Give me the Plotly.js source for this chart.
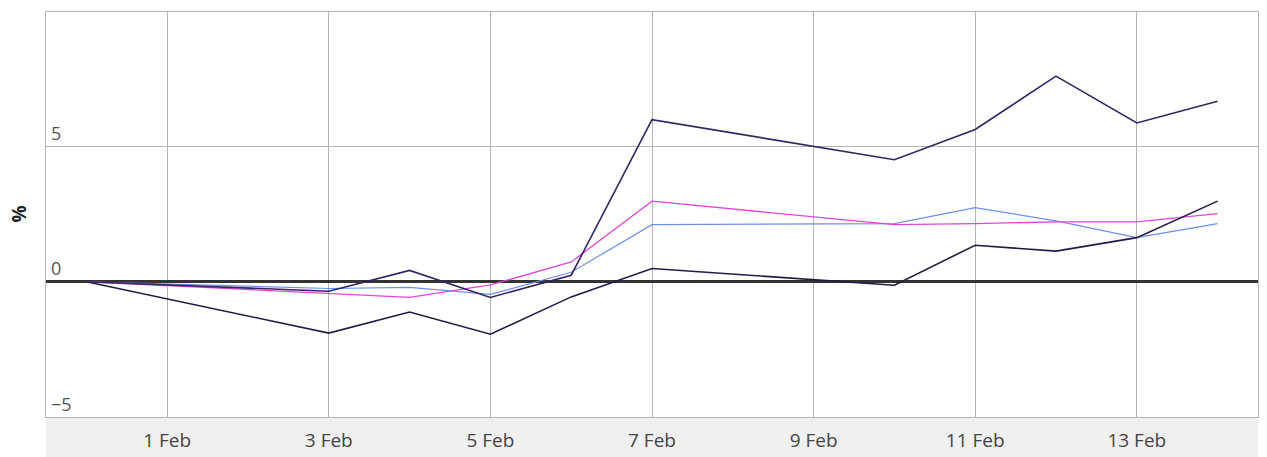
<!DOCTYPE html>
<html>
<head>
<meta charset="utf-8">
<script src="https://cdn.plot.ly/plotly-3.0.1.min.js"></script>
<style>
  html, body { margin: 0; padding: 0; background: #ffffff; }
  #chart { width: 1267px; height: 457px; }
</style>
</head>
<body>
<div id="chart"></div>
<script>
const dates = ['2020-01-31','2020-02-03','2020-02-04','2020-02-05','2020-02-06','2020-02-07',
               '2020-02-10','2020-02-11','2020-02-12','2020-02-13','2020-02-14'];
const seriesA = [0, -0.35, 0.42, -0.58, 0.24, 5.99, 4.51, 5.63, 7.60, 5.87, 6.67];
const seriesB = [0, -1.90, -1.12, -1.94, -0.56, 0.49, -0.13, 1.35, 1.13, 1.63, 2.98];
const seriesC = [0, -0.42, -0.58, -0.12, 0.73, 2.98, 2.11, 2.15, 2.21, 2.21, 2.52];
const seriesD = [0, -0.25, -0.21, -0.47, 0.35, 2.11, 2.15, 2.74, 2.25, 1.63, 2.15];
const yTickVals = [-5, 0, 5];
const yTickText = ['\u22125', '0', '5'];
const yLabel = '%';

const mk = (y, color, w) => ({
  x: dates, y: y, type: 'scatter', mode: 'lines',
  line: { color: color, width: w }, hoverinfo: 'skip', showlegend: false
});

const data = [
  mk(seriesD, '#6f8fe6', 1.2),
  mk(seriesC, '#e046d8', 1.3),
  mk(seriesB, '#1f1d45', 1.6),
  mk(seriesA, '#35245f', 1.6)
];

const layout = {
  width: 1267, height: 457,
  margin: { l: 46, r: 9, t: 12, b: 40 },
  paper_bgcolor: '#ffffff', plot_bgcolor: '#ffffff',
  font: { family: 'Open Sans, Noto Sans, sans-serif', size: 19, color: '#444444' },
  showlegend: false,
  hovermode: false,
  xaxis: {
    type: 'date',
    range: ['2020-01-30 12:00', '2020-02-14 12:00'],
    tick0: '2020-02-01', dtick: 2 * 86400000,
    tickformat: '%-d %b',
    showgrid: true, gridcolor: '#b4b4b4', gridwidth: 1,
    showline: true, linecolor: '#b4b4b4', linewidth: 1, mirror: true,
    ticks: '', zeroline: false,
    ticklabelstandoff: 6,
    tickfont: { size: 19, color: '#444444' }
  },
  yaxis: {
    range: [-5, 9.97],
    tickvals: yTickVals, ticktext: yTickText,
    ticklabelposition: 'inside top',
    ticklabelstandoff: 5,
    showgrid: true, gridcolor: '#b4b4b4', gridwidth: 1,
    showline: true, linecolor: '#b4b4b4', linewidth: 1, mirror: true,
    ticks: '',
    zeroline: true, zerolinecolor: '#333333', zerolinewidth: 3,
    tickfont: { size: 18, color: '#555555' }
  },
  shapes: [{
    type: 'rect', xref: 'paper', yref: 'paper',
    x0: 0, x1: 1, y0: -0.1, y1: 0,
    fillcolor: '#f0f0f0', line: { width: 0 }, layer: 'below'
  }],
  annotations: [{
    text: yLabel, xref: 'paper', yref: 'paper', x: 0, y: 0.5,
    xanchor: 'center', yanchor: 'middle', xshift: -28, textangle: -90,
    showarrow: false, font: { size: 19, color: '#222222', weight: 'bold' }
  }]
};

Plotly.newPlot('chart', data, layout, { displayModeBar: false, staticPlot: true });
</script>
</body>
</html>
